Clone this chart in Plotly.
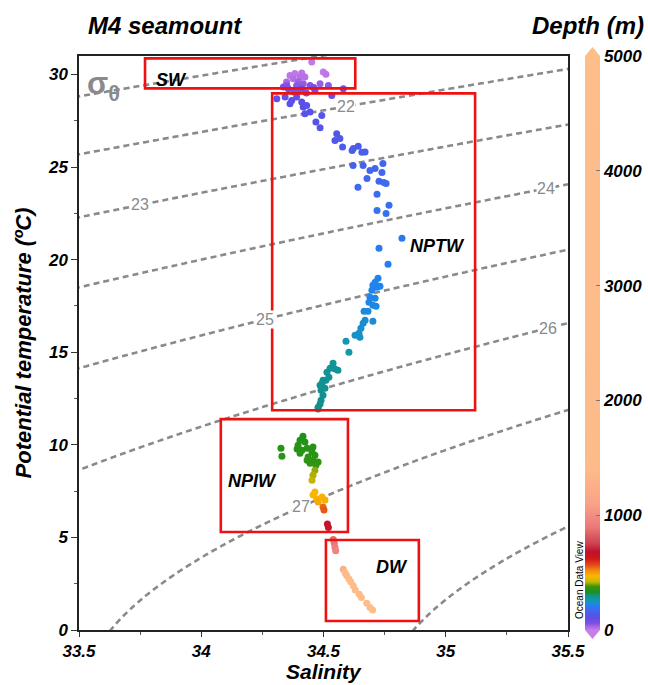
import numpy as np
import plotly.graph_objects as go

# ---------------- data ----------------
salinity = [
    # SW / surface cluster
    34.452, 34.363, 34.383, 34.411, 34.404, 34.376, 34.424, 34.499, 34.510, 34.349,
    34.397, 34.417, 34.390, 34.445, 34.486, 34.520, 34.336, 34.356, 34.411, 34.465,
    34.581, 34.534, 34.309, 34.343, 34.370, 34.390, 34.411, 34.363, 34.417, 34.431,
    34.424, 34.445, 34.493, 34.469, 34.486, 34.380, 34.400, 34.430, 34.350, 34.460,
    # NPTW
    34.554, 34.567, 34.547, 34.578, 34.622, 34.642, 34.670,
    34.617, 34.657, 34.621, 34.662, 34.743, 34.690, 34.711, 34.739, 34.678, 34.727,
    34.747, 34.756, 34.641, 34.719, 34.768, 34.719, 34.756, 34.821, 34.727, 34.764,
    34.723, 34.711, 34.702, 34.731, 34.719, 34.698, 34.690, 34.711, 34.686, 34.702,
    34.715, 34.666, 34.682, 34.670, 34.662, 34.702, 34.653, 34.645, 34.629, 34.649,
    34.592, 34.604,
    34.539, 34.527, 34.547, 34.559, 34.514, 34.522, 34.510, 34.498, 34.494, 34.486,
    34.506, 34.490, 34.498, 34.490, 34.486, 34.478, 34.478,
    # NPIW
    34.416, 34.404, 34.424, 34.396, 34.457, 34.392, 34.412, 34.433, 34.453, 34.404,
    34.437, 34.465, 34.433, 34.457, 34.478, 34.445, 34.469, 34.326, 34.330,
    34.465, 34.457, 34.453,
    34.465, 34.457, 34.473, 34.494, 34.506, 34.478,
    34.498, 34.502,
    34.516, 34.520,
    # DW
    34.540, 34.544, 34.547, 34.550,
    34.581, 34.588, 34.595, 34.604, 34.611, 34.622, 34.630, 34.646, 34.655, 34.677,
    34.690, 34.701,
]
temperature = [
    30.67, 29.95, 30.06, 30.08, 29.86, 29.77, 29.86, 30.13, 30.01, 29.59,
    29.59, 29.50, 29.41, 29.41, 29.50, 29.41, 29.32, 29.23, 29.23, 29.14,
    29.23, 28.87, 28.69, 28.78, 28.60, 28.78, 28.51, 28.42, 28.24, 28.33,
    27.88, 27.97, 27.79, 27.43, 27.13, 29.05, 29.10, 29.00, 29.40, 29.30,
    26.80, 26.54, 26.44, 26.08, 26.00, 26.12, 25.81,
    25.90, 25.80, 25.09, 25.09, 25.20, 24.82, 24.93, 24.71, 24.39, 24.23,
    24.17, 24.12, 23.91, 23.53, 22.94, 22.66, 22.50, 21.16, 20.62, 19.75,
    19.00, 18.78, 18.62, 18.56, 18.51, 18.35, 17.97, 17.92, 17.70, 17.54,
    17.49, 17.22, 17.22, 16.73, 16.57, 16.68, 16.30, 16.03, 15.92, 15.81,
    15.60, 15.00,
    14.41, 14.14, 14.09, 14.03, 13.92, 13.65, 13.49, 13.49, 13.33, 13.22,
    13.06, 12.95, 12.68, 12.41, 12.20, 12.03, 11.93,
    10.47, 10.25, 10.15, 9.98, 9.88, 9.77, 9.71, 9.82, 9.61, 9.55,
    9.34, 9.44, 9.17, 9.17, 9.07, 9.01, 8.90, 9.82, 9.39,
    8.63, 8.36, 8.09,
    7.45, 7.29, 7.07, 7.18, 7.02, 6.91,
    6.64, 6.48,
    5.72, 5.54,
    4.89, 4.68, 4.46, 4.28,
    3.28, 3.09, 2.93, 2.75, 2.61, 2.39, 2.16, 1.93, 1.76, 1.44,
    1.22, 1.08,
]
depth = [
    5, 10, 8, 12, 15, 18, 14, 6, 9, 30,
    35, 45, 50, 55, 40, 48, 60, 70, 75, 80,
    65, 85, 95, 90, 100, 92, 105, 110, 115, 112,
    120, 118, 125, 128, 130, 60, 62, 66, 58, 68,
    135, 138, 140, 145, 148, 146, 150,
    150, 152, 160, 162, 165, 168, 166, 170, 172, 174,
    175, 176, 178, 180, 185, 188, 190, 200, 205, 210,
    215, 216, 218, 218, 219, 220, 222, 222, 224, 226,
    226, 230, 230, 234, 236, 235, 238, 240, 242, 244,
    250, 262,
    285, 288, 288, 288, 290, 292, 293, 293, 294, 295,
    296, 297, 298, 299, 300, 301, 302,
    340, 342, 344, 346, 348, 350, 350, 348, 352, 352,
    356, 354, 360, 360, 362, 362, 366, 348, 356,
    405, 412, 418,
    470, 472, 478, 476, 480, 484,
    545, 555,
    660, 690,
    860, 890, 920, 950,
    1250, 1500, 1750, 2000, 2250, 2500, 2750, 3000, 3300, 3700,
    4100, 4500,
]

sigma_levels = [21, 22, 23, 24, 25, 26, 27, 28]
sigma_label_values = [22, 23, 24, 25, 26, 27]
sigma_label_salinity = [34.59, 33.75, 35.41, 34.26, 35.42, 34.41]

box_names = ["SW", "NPTW", "NPIW", "DW"]
box_s = [(33.77, 34.63), (34.29, 35.12), (34.08, 34.60), (34.51, 34.89)]
box_t = [(29.25, 30.87), (11.87, 28.98), (5.29, 11.39), (0.49, 4.86)]
box_label_s = [33.88, 34.965, 34.21, 34.78]
box_label_t = [29.68, 20.72, 8.04, 3.40]

x_ticks = [33.5, 34, 34.5, 35, 35.5]
x_tick_text = ["33.5", "34", "34.5", "35", "35.5"]
y_ticks = [0, 5, 10, 15, 20, 25, 30]
cbar_ticks = [0, 1000, 2000, 3000, 4000, 5000]


# ---------------- sigma-0 (UNESCO 1981, p = 0) ----------------
def sigma0(S, T):
    rw = (999.842594 + 6.793952e-2 * T - 9.095290e-3 * T**2 + 1.001685e-4 * T**3
          - 1.120083e-6 * T**4 + 6.536332e-9 * T**5)
    A = 8.24493e-1 - 4.0899e-3 * T + 7.6438e-5 * T**2 - 8.2467e-7 * T**3 + 5.3875e-9 * T**4
    B = -5.72466e-3 + 1.0227e-4 * T - 1.6546e-6 * T**2
    C = 4.8314e-4
    return rw + A * S + B * S**1.5 + C * S**2 - 1000.0


def t_on_isopycnal(S, sig):
    lo, hi = -2.0, 40.0
    for _ in range(60):
        mid = 0.5 * (lo + hi)
        if sigma0(S, mid) > sig:
            lo = mid
        else:
            hi = mid
    return 0.5 * (lo + hi)


sg = np.linspace(33.4, 35.6, 221)
tg = np.linspace(-0.5, 31.5, 321)
SS, TT = np.meshgrid(sg, tg)
ZZ = sigma0(SS, TT)

FONT = "Liberation Sans, Arial, sans-serif"
GRAY = "#8a8a8a"

colorscale = [
    [0.000, "#c77ee8"], [0.006, "#a865e4"], [0.012, "#7f4ee2"], [0.020, "#5f4fe6"],
    [0.028, "#5058ea"], [0.036, "#3b6cf0"], [0.044, "#1f84ee"], [0.052, "#129aa8"],
    [0.060, "#129090"], [0.066, "#1a901a"], [0.076, "#3a9610"], [0.084, "#c8b800"],
    [0.094, "#f8b800"], [0.104, "#f08a10"], [0.112, "#e85018"], [0.124, "#d01818"],
    [0.136, "#c0102a"], [0.150, "#cc4050"], [0.180, "#ec7a78"], [0.220, "#f9a288"],
    [0.280, "#fdbb8a"], [1.000, "#fdbe8a"],
]

fig = go.Figure()

fig.add_trace(go.Contour(
    x=sg, y=tg, z=ZZ,
    contours=dict(start=sigma_levels[0], end=sigma_levels[-1], size=1,
                  coloring="none", showlabels=False),
    line=dict(color=GRAY, width=2.6, dash="6px,4px"),
    showscale=False, hoverinfo="skip", showlegend=False,
))

CB_X = (585 - 79) / 489

fig.add_trace(go.Scatter(
    x=salinity, y=temperature, mode="markers",
    marker=dict(
        size=7, color=depth, colorscale=colorscale, cmin=0, cmax=5000,
        line=dict(width=0),
        colorbar=dict(
            x=CB_X, xanchor="left", xpad=0, ypad=0,
            y=0.0, yanchor="bottom", len=1.0, lenmode="fraction",
            thickness=15, outlinewidth=0,
            tickvals=cbar_ticks, ticks="inside", ticklen=4, tickcolor="#777",
            tickfont=dict(family=FONT, size=17, color="black", weight="bold", style="italic"),
        ),
    ),
    showlegend=False,
))

shapes = []
for (s0, s1), (t0, t1) in zip(box_s, box_t):
    shapes.append(dict(type="rect", xref="x", yref="y", x0=s0, x1=s1, y0=t0, y1=t1,
                       line=dict(color="#ee1111", width=2.6), fillcolor="rgba(0,0,0,0)"))

# colorbar end arrows (paper coordinates)
cx0, cx1 = CB_X, CB_X + 15 / 489
cxm = 0.5 * (cx0 + cx1)
shapes.append(dict(type="path", xref="paper", yref="paper",
                   path=f"M {cx0},1.0 L {cxm},{1 + 9/574} L {cx1},1.0 Z",
                   fillcolor="#fdbe8a", line=dict(width=0)))
shapes.append(dict(type="path", xref="paper", yref="paper",
                   path=f"M {cx0},0.0 L {cxm},{-9/574} L {cx1},0.0 Z",
                   fillcolor="#c77ee8", line=dict(width=0)))

annotations = []
for v, s in zip(sigma_label_values, sigma_label_salinity):
    annotations.append(dict(
        x=s, y=t_on_isopycnal(s, v), xref="x", yref="y", text=str(v), showarrow=False,
        font=dict(family=FONT, size=16, color=GRAY), bgcolor="white", borderpad=0,
    ))
for name, s, t in zip(box_names, box_label_s, box_label_t):
    annotations.append(dict(
        x=s, y=t, xref="x", yref="y", text=name, showarrow=False,
        font=dict(family=FONT, size=18, color="black", weight="bold", style="italic"),
    ))
annotations.append(dict(
    x=33.60, y=29.36, xref="x", yref="y", text="σ<sub>θ</sub>", showarrow=False,
    font=dict(family=FONT, size=31, color=GRAY, weight="bold"),
))
annotations.append(dict(
    x=(86 - 79) / 489, y=(630 - 25) / 574, xref="paper", yref="paper",
    xanchor="left", yanchor="middle", text="M4 seamount", showarrow=False,
    font=dict(family=FONT, size=24, color="black", weight="bold", style="italic"),
))
annotations.append(dict(
    x=(646 - 79) / 489, y=(630 - 25) / 574, xref="paper", yref="paper",
    xanchor="right", yanchor="middle", text="Depth (m)", showarrow=False,
    font=dict(family=FONT, size=24, color="black", weight="bold", style="italic"),
))
annotations.append(dict(
    x=(579 - 79) / 489, y=(630 - 580) / 574, xref="paper", yref="paper",
    xanchor="center", yanchor="middle",
    text="Ocean Data View", textangle=-90, showarrow=False,
    font=dict(family=FONT, size=10, color="black"),
))
# x-axis title
annotations.append(dict(
    x=0.5, y=(630 - 684) / 574, xref="paper", yref="paper",
    xanchor="center", yanchor="bottom", text="Salinity", showarrow=False,
    borderpad=0,
    font=dict(family=FONT, size=21, color="black", weight="bold", style="italic"),
))

axis_font = dict(family=FONT, size=17, color="black", weight="bold", style="italic")
title_font = dict(family=FONT, size=22, color="black", weight="bold", style="italic")

fig.update_layout(
    width=648, height=685,
    margin=dict(l=79, r=80, t=56, b=55, autoexpand=False),
    showlegend=False,
    paper_bgcolor="white", plot_bgcolor="white",
    shapes=shapes, annotations=annotations,
    xaxis=dict(
        range=[33.5, 35.5], tickvals=x_ticks, ticktext=x_tick_text,
        ticks="outside", ticklen=5, tickwidth=1.2, tickcolor="#333",
        minor=dict(dtick=0.25, ticks="outside", ticklen=3, tickcolor="#555"),
        showline=True, linecolor="#222", linewidth=1.5, mirror=True,
        showgrid=False, zeroline=False, tickfont=axis_font, automargin=False,
    ),
    yaxis=dict(
        range=[0, 31], tickvals=y_ticks,
        ticks="outside", ticklen=6, tickwidth=1.2, tickcolor="#333",
        minor=dict(dtick=2.5, ticks="outside", ticklen=3, tickcolor="#555"),
        showline=True, linecolor="#222", linewidth=1.5, mirror=True,
        showgrid=False, zeroline=False, tickfont=axis_font, automargin=False,
        title=dict(text="Potential temperature (ºC)", font=title_font, standoff=10),
    ),
)

fig.write_html("out.html")
